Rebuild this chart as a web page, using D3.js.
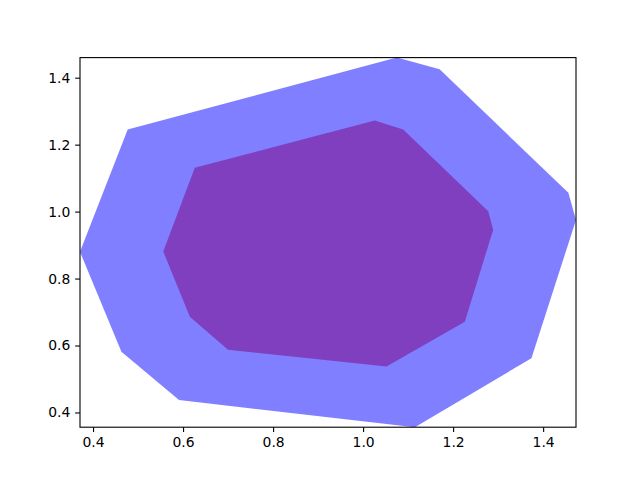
<!DOCTYPE html>
<html>
<head>
<meta charset="utf-8">
<script src="https://cdn.jsdelivr.net/npm/d3@7"></script>
<style>
  body { margin: 0; background: #fff; }
  svg text { font-family: "DejaVu Sans", sans-serif; }
</style>
</head>
<body>
<svg id="svg" width="640" height="480"></svg>
<script>
// outer and inner polygon vertices (x, y)
var outerX = [0.371, 0.477, 1.075, 1.170, 1.456, 1.473, 1.374, 1.115, 0.591, 0.463];
var outerY = [0.880, 1.245, 1.460, 1.425, 1.056, 0.975, 0.562, 0.356, 0.437, 0.581];
var innerX = [0.626, 1.026, 1.089, 1.278, 1.289, 1.226, 1.052, 0.700, 0.615, 0.556];
var innerY = [1.131, 1.272, 1.245, 1.001, 0.946, 0.671, 0.537, 0.587, 0.686, 0.881];
var xTicks = [0.4, 0.6, 0.8, 1.0, 1.2, 1.4];
var yTicks = [0.4, 0.6, 0.8, 1.0, 1.2, 1.4];

var svg = d3.select("#svg");
// axes box (matplotlib default subplot params)
var axL = 80, axR = 576, axT = 57.6, axB = 427.2;

var x = d3.scaleLinear().domain(d3.extent(outerX)).range([axL, axR]);
var y = d3.scaleLinear().domain(d3.extent(outerY)).range([axB, axT]);

svg.append("clipPath").attr("id", "clip")
  .append("rect")
  .attr("x", axL).attr("y", axT)
  .attr("width", axR - axL).attr("height", axB - axT);

var line = d3.line()
  .x(function(d) { return x(d[0]); })
  .y(function(d) { return y(d[1]); })
  .curve(d3.curveLinearClosed);

var outer = d3.zip(outerX, outerY);
var inner = d3.zip(innerX, innerY);

var g = svg.append("g").attr("clip-path", "url(#clip)");
g.append("path").attr("d", line(outer)).attr("fill", "blue").attr("fill-opacity", 0.5);
g.append("path").attr("d", line(inner)).attr("fill", "purple").attr("fill-opacity", 0.5);

var tick = 4.86;
var xAxis = svg.append("g")
  .attr("transform", "translate(0," + axB + ")")
  .call(d3.axisBottom(x).tickValues(xTicks).tickFormat(d3.format(".1f"))
    .tickSize(tick).tickPadding(4.86).tickSizeOuter(0));
var yAxis = svg.append("g")
  .attr("transform", "translate(" + axL + ",0)")
  .call(d3.axisLeft(y).tickValues(yTicks).tickFormat(d3.format(".1f"))
    .tickSize(tick).tickPadding(4.86).tickSizeOuter(0));

[xAxis, yAxis].forEach(function(a) {
  a.select(".domain").remove();
  a.selectAll("line").attr("stroke", "black").attr("stroke-width", 1.1);
  a.selectAll("text").attr("font-size", "13.9px").attr("fill", "black")
    .attr("font-family", "DejaVu Sans");
});

svg.append("rect")
  .attr("x", axL).attr("y", axT)
  .attr("width", axR - axL).attr("height", axB - axT)
  .attr("fill", "none").attr("stroke", "black").attr("stroke-width", 1.1);
</script>
</body>
</html>
